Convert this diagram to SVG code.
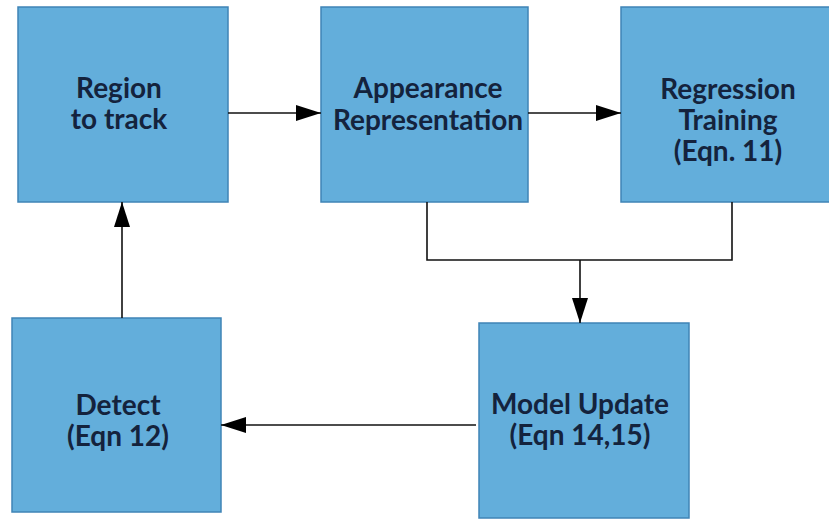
<svg xmlns="http://www.w3.org/2000/svg" width="829" height="521" viewBox="0 0 829 521">
<style>
.box{fill:#63aedb;stroke:#3f84b6;stroke-width:1.5}
.lbl{font-family:Lato,"Open Sans","Liberation Sans",sans-serif;font-weight:bold;font-size:28px;fill:#14233d;text-anchor:middle}
.con{fill:none;stroke:#111;stroke-width:1.6}
</style>
<defs>
<marker id="ah" markerWidth="25" markerHeight="16" refX="25" refY="8" orient="auto" markerUnits="userSpaceOnUse">
<path d="M0,0 L25,8 L0,16 Z" fill="#000"/>
</marker>
</defs>
<rect width="829" height="521" fill="#fff"/>
<g id="node-region">
<rect class="box" x="18" y="7" width="210" height="195"/>
<text class="lbl" x="119" y="98">Region</text>
<text class="lbl" x="119" y="129">to track</text>
</g>
<g id="node-appearance">
<rect class="box" x="321" y="7" width="207" height="195"/>
<text class="lbl" x="428" y="98">Appearance</text>
<text class="lbl" x="428" y="130">Representation</text>
</g>
<g id="node-regression">
<rect class="box" x="621" y="7" width="212" height="195"/>
<text class="lbl" x="728" y="99">Regression</text>
<text class="lbl" x="728" y="130">Training</text>
<text class="lbl" x="728" y="161">(Eqn. 11)</text>
</g>
<g id="node-detect">
<rect class="box" x="12" y="318" width="209" height="194"/>
<text class="lbl" x="118" y="415">Detect</text>
<text class="lbl" x="118" y="446">(Eqn 12)</text>
</g>
<g id="node-model">
<rect class="box" x="479" y="323" width="210" height="195"/>
<text class="lbl" x="580" y="414">Model Update</text>
<text class="lbl" x="580" y="445">(Eqn 14,15)</text>
</g>
<g id="connectors">
<path class="con" d="M228,113 H321" marker-end="url(#ah)"/>
<path class="con" d="M528,113 H621" marker-end="url(#ah)"/>
<path class="con" d="M122,318 V202" marker-end="url(#ah)"/>
<path class="con" d="M476,425 H221" marker-end="url(#ah)"/>
<path class="con" d="M427,202 V260 H732 V202"/>
<path class="con" d="M580,260 V323" marker-end="url(#ah)"/>
</g>
</svg>
